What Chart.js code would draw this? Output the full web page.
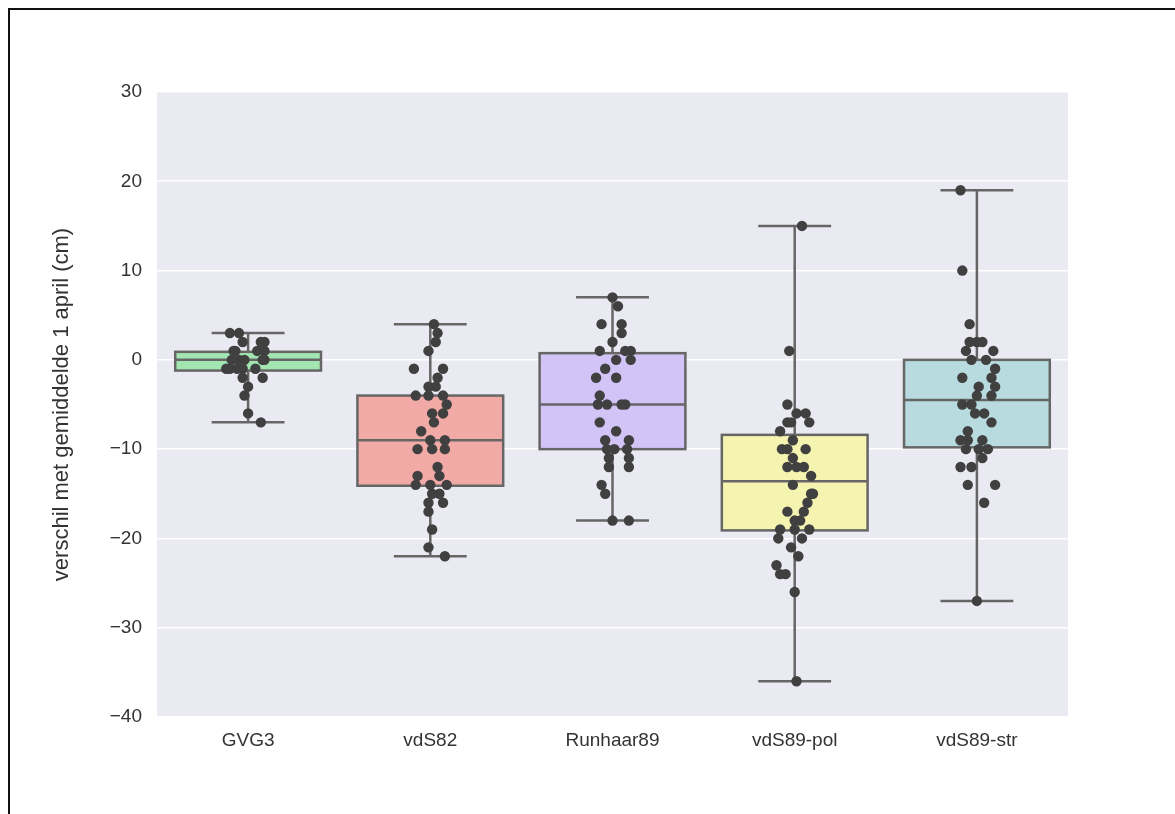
<!DOCTYPE html>
<html>
<head>
<meta charset="utf-8">
<title>verschil met gemiddelde 1 april</title>
<script src="https://cdn.jsdelivr.net/npm/chart.js@4.4.0/dist/chart.umd.min.js"></script>
<style>
  html, body { margin: 0; padding: 0; background: #fff; overflow: hidden; }
  #wrap { position: relative; width: 1175px; height: 814px; overflow: hidden; }
  #frame {
    position: absolute; left: 8px; top: 8px; width: 1200px; height: 850px;
    border-left: 2px solid #111; border-top: 2px solid #111;
  }
  #chart { position: absolute; left: 0; top: 0; }
</style>
</head>
<body>
<div id="wrap">
  <div id="frame"></div>
  <canvas id="chart" width="1175" height="814"></canvas>
</div>

<script>
/* =========================================================================
   Box + strip plot — verschil met gemiddelde 1 april
   ========================================================================= */

const GROUPS = ["GVG3", "vdS82", "Runhaar89", "vdS89-pol", "vdS89-str"];
const Y_TICKS = [-40, -30, -20, -10, 0, 10, 20, 30];

// box statistics per group
const WHISKER_LOW = [-7, -22, -18, -36, -27];
const Q1 = [-1.2, -14.1, -10, -19.1, -9.8];
const MEDIAN = [0, -9, -5, -13.6, -4.5];
const Q3 = [0.9, -4, 0.75, -8.4, 0];
const WHISKER_HIGH = [3, 4, 7, 15, 19];

// individual observations (value) and their strip jitter (category units)
const GVG3_VALUES = [3, 3, 2, 2, 2, 1, 1, 1, 1, 0, 0, 0, 0, 0, -1, -1, -1, -1, -1, -2, -2, -3, -4, -6, -7];
const GVG3_JITTER = [-0.10, -0.05, -0.03, 0.07, 0.09, 0.05, 0.09, -0.08, -0.07, -0.09, -0.05, 0.09, 0.08, -0.02, -0.10, -0.06, 0.04, -0.12, -0.03, -0.03, 0.08, 0.00, -0.02, 0.00, 0.07];

const VDS82_VALUES = [4, 3, 2, 1, -1, -1, -2, -3, -3, -4, -4, -4, -5, -6, -6, -7, -8, -9, -9, -10, -10, -10, -12, -13, -13, -14, -14, -14, -15, -15, -16, -16, -17, -19, -21, -22];
const VDS82_JITTER = [0.02, 0.04, 0.03, -0.01, -0.09, 0.07, 0.04, -0.01, 0.03, -0.08, -0.01, 0.07, 0.09, 0.01, 0.07, 0.02, -0.05, 0.00, 0.08, -0.07, 0.01, 0.08, 0.04, 0.05, -0.07, -0.08, 0.00, 0.09, 0.01, 0.05, -0.01, 0.07, -0.01, 0.01, -0.01, 0.08];

const RUNHAAR89_VALUES = [7, 6, 4, 4, 3, 2, 1, 1, 1, 0, 0, -1, -2, -2, -4, -5, -5, -5, -5, -7, -8, -9, -9, -10, -10, -10, -11, -11, -12, -12, -14, -15, -18, -18];
const RUNHAAR89_JITTER = [0.00, 0.03, -0.06, 0.05, 0.05, 0.00, -0.07, 0.07, 0.10, 0.02, 0.10, -0.04, -0.09, 0.02, -0.07, -0.08, -0.03, 0.05, 0.07, -0.07, 0.02, -0.04, 0.09, -0.03, 0.01, 0.08, -0.02, 0.09, -0.02, 0.09, -0.06, -0.04, 0.00, 0.09];

const VDS89POL_VALUES = [15, 1, -5, -6, -6, -7, -7, -7, -8, -9, -10, -10, -10, -11, -12, -12, -12, -13, -14, -15, -15, -16, -17, -17, -18, -18, -19, -19, -19, -20, -20, -21, -22, -23, -24, -24, -26, -36];
const VDS89POL_JITTER = [0.04, -0.03, -0.04, 0.01, 0.06, -0.04, -0.02, 0.08, -0.08, -0.01, -0.07, -0.04, 0.06, -0.01, -0.04, 0.01, 0.05, 0.09, -0.01, 0.09, 0.10, 0.07, -0.04, 0.05, 0.00, 0.03, -0.08, 0.00, 0.08, -0.09, 0.04, -0.02, 0.02, -0.10, -0.08, -0.05, 0.00, 0.01];

const VDS89STR_VALUES = [19, 10, 4, 2, 2, 2, 1, 1, 0, 0, -1, -2, -2, -3, -3, -4, -4, -5, -5, -6, -6, -7, -8, -9, -9, -9, -10, -10, -10, -11, -12, -12, -14, -14, -16, -27];
const VDS89STR_JITTER = [-0.09, -0.08, -0.04, -0.04, 0.00, 0.03, -0.06, 0.09, -0.03, 0.05, 0.10, -0.08, 0.08, 0.01, 0.10, 0.00, 0.08, -0.08, -0.03, -0.01, 0.04, 0.08, -0.05, -0.09, -0.05, 0.03, -0.06, 0.01, 0.06, 0.03, -0.09, -0.03, -0.05, 0.10, 0.04, 0.00];

const VALUES = [GVG3_VALUES, VDS82_VALUES, RUNHAAR89_VALUES, VDS89POL_VALUES, VDS89STR_VALUES];
const JITTER = [GVG3_JITTER, VDS82_JITTER, RUNHAAR89_JITTER, VDS89POL_JITTER, VDS89STR_JITTER];

const BOX_COLORS = ["#a2e5b0", "#f2aaa7", "#d3c4f7", "#f4f3af", "#b7dbdf"];
const LINE_COLOR = "#666666";
const TEXT_COLOR = "#333333";
const FONT = { family: "'Liberation Sans', Arial, sans-serif", size: 19 };
const TITLE_FONT = { family: "'Liberation Sans', Arial, sans-serif", size: 22 };

// grey plot background (seaborn darkgrid)
const plotBackground = {
  id: "plotBackground",
  beforeDraw(chart) {
    const { ctx, chartArea: a } = chart;
    ctx.save();
    ctx.fillStyle = "#eaeaf2";
    ctx.fillRect(a.left, a.top, a.right - a.left, a.bottom - a.top);
    ctx.restore();
  },
};

// boxes, whiskers and medians, drawn below the strip points
const boxPlot = {
  id: "boxPlot",
  beforeDatasetsDraw(chart) {
    const { ctx, scales: { x, y } } = chart;
    const line = (x1, y1, x2, y2) => {
      ctx.beginPath();
      ctx.moveTo(x1, y1);
      ctx.lineTo(x2, y2);
      ctx.stroke();
    };

    ctx.save();
    ctx.lineWidth = 2.5;
    ctx.strokeStyle = LINE_COLOR;
    ctx.lineCap = "butt";

    GROUPS.forEach((g, i) => {
      const xc = x.getPixelForValue(i);
      const xl = x.getPixelForValue(i - 0.4);
      const xr = x.getPixelForValue(i + 0.4);
      const cl = x.getPixelForValue(i - 0.2);
      const cr = x.getPixelForValue(i + 0.2);
      const yLo = y.getPixelForValue(WHISKER_LOW[i]);
      const yHi = y.getPixelForValue(WHISKER_HIGH[i]);
      const yQ1 = y.getPixelForValue(Q1[i]);
      const yQ3 = y.getPixelForValue(Q3[i]);
      const yMed = y.getPixelForValue(MEDIAN[i]);

      line(xc, yHi, xc, yQ3);
      line(xc, yQ1, xc, yLo);
      line(cl, yHi, cr, yHi);
      line(cl, yLo, cr, yLo);

      ctx.fillStyle = BOX_COLORS[i];
      ctx.fillRect(xl, yQ3, xr - xl, yQ1 - yQ3);
      ctx.strokeRect(xl, yQ3, xr - xl, yQ1 - yQ3);
      line(xl, yMed, xr, yMed);
    });
    ctx.restore();
  },
};

function tickLabel(v) {
  return v < 0 ? "\u2212" + Math.abs(v) : String(v);
}

new Chart(document.getElementById("chart"), {
  type: "scatter",
  data: {
    datasets: GROUPS.map((g, i) => ({
      label: g,
      data: VALUES[i].map((v, j) => ({ x: i + JITTER[i][j], y: v })),
      pointRadius: 5.2,
      pointHoverRadius: 5.2,
      pointBackgroundColor: "#404040",
      pointBorderWidth: 0,
    })),
  },
  options: {
    responsive: false,
    animation: false,
    layout: { padding: { left: 0, top: 92, right: 107, bottom: 0 } },
    plugins: { legend: { display: false }, tooltip: { enabled: false } },
    scales: {
      x: {
        type: "linear",
        min: -0.5,
        max: 4.5,
        afterBuildTicks: (s) => { s.ticks = GROUPS.map((g, i) => ({ value: i })); },
        afterFit: (s) => { s.height = 97; },
        grid: { display: false, drawTicks: false },
        border: { display: false },
        ticks: { padding: 12, color: TEXT_COLOR, font: FONT, callback: (v) => GROUPS[v] },
      },
      y: {
        min: -40,
        max: 30,
        afterBuildTicks: (s) => { s.ticks = Y_TICKS.map((v) => ({ value: v })); },
        afterFit: (s) => { s.width = 157; },
        grid: { color: "#ffffff", lineWidth: 1.6, drawTicks: false },
        border: { display: false },
        ticks: { padding: 15, color: TEXT_COLOR, font: FONT, callback: tickLabel },
        title: {
          display: true,
          text: "verschil met gemiddelde 1 april (cm)",
          color: TEXT_COLOR,
          font: TITLE_FONT,
          padding: { top: 49, bottom: 0 },
        },
      },
    },
  },
  plugins: [plotBackground, boxPlot],
});
</script>
</body>
</html>
